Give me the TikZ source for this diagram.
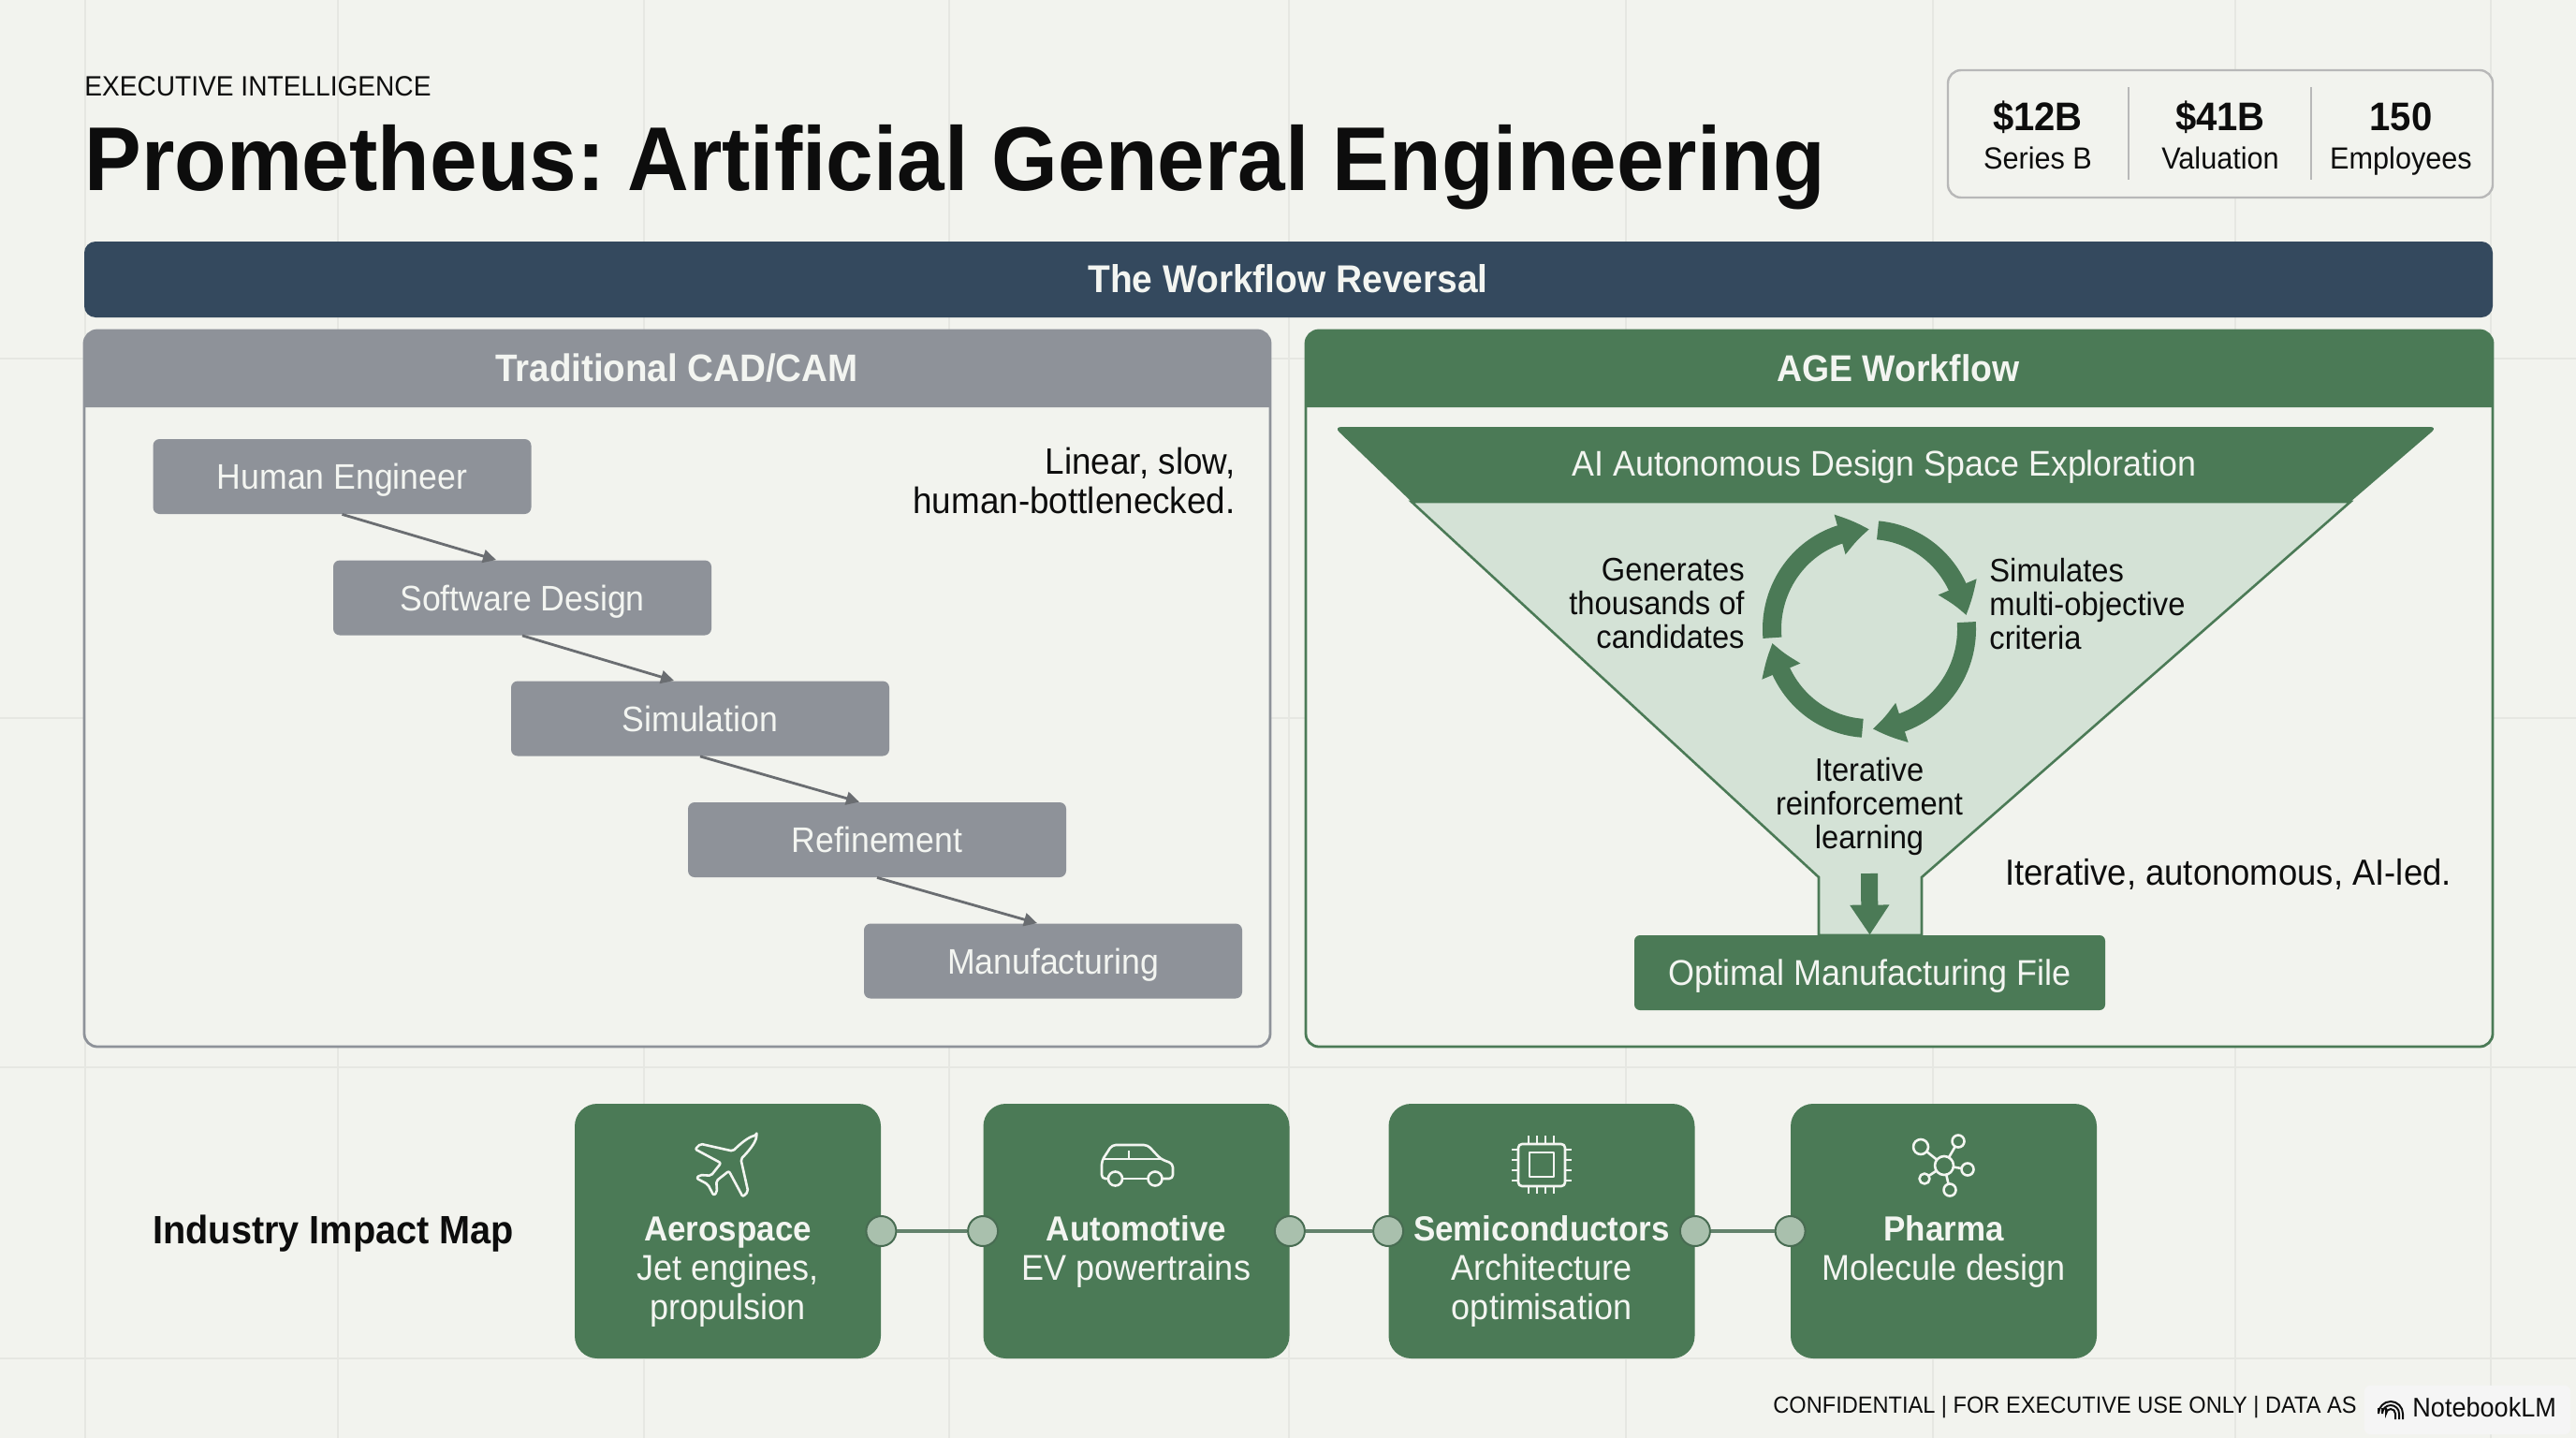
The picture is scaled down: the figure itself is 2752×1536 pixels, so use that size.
\documentclass[tikz,border=0pt]{standalone}
\usepackage{fontspec}
\setmainfont[FakeStretch=0.94]{Liberation Sans}
\usetikzlibrary{arrows.meta,bending,calc}
\definecolor{bgc}{HTML}{F2F3EE}
\definecolor{gridc}{HTML}{E6E7E2}
\definecolor{greenc}{HTML}{4B7A56}
\definecolor{navyc}{HTML}{34495E}
\definecolor{grayc}{HTML}{8E9299}
\definecolor{lightg}{HTML}{D4E2D6}
\definecolor{dotc}{HTML}{A9C0AD}
\definecolor{dotb}{HTML}{486C52}
\definecolor{inkc}{HTML}{0D0D0D}
\definecolor{paperw}{HTML}{F3F5F1}
\definecolor{arrowg}{HTML}{6A6D71}
\newcommand{\fs}[1]{\fontsize{#1}{#1}\selectfont}
\tikzset{
  txt/.style={inner sep=0pt,text=inkc,anchor=mid},
  wtxt/.style={inner sep=0pt,text=paperw,anchor=mid},
  flowbox/.style={fill=grayc,rounded corners=3.5pt,minimum width=202pt,minimum height=40pt,text=paperw,inner sep=0pt,text height=13.7pt,text depth=0pt,font=\fs{18.95}},
  card/.style={fill=greenc,rounded corners=12pt,minimum width=163.5pt,minimum height=136pt,inner sep=0pt},
  dotn/.style={circle,fill=dotc,draw=dotb,line width=1pt,minimum size=16pt,inner sep=0pt},
  link/.style={draw=dotb!85!white,line width=2pt},
  flowarrow/.style={draw=arrowg,line width=1.4pt,-{Triangle[length=7pt,width=7pt]}},
  cyc/.style={draw=greenc,line width=10pt,-{Triangle[length=16pt,width=21pt,bend]}},
  icon/.style={draw=paperw,line width=1.3pt,line join=round},
  gridl/.style={draw=gridc,line width=1pt},
}
\begin{document}
\begin{tikzpicture}[x=0.5pt,y=-0.5pt]
\fill[bgc] (0,0) rectangle (2752,1536);
\useasboundingbox (0,0) rectangle (2752,1536);
% faint grid
\foreach \gx in {91,361,688,1014,1377,1737,2065,2388,2661} \draw[gridl] (\gx,0) -- (\gx,1536);
\foreach \gy in {383,767,1140,1451} \draw[gridl] (0,\gy) -- (2752,\gy);

% header
\node[txt,anchor=base west,font=\fs{14.95}] (kicker) at (90,103) {EXECUTIVE INTELLIGENCE};
\node[txt,anchor=base west,font=\bfseries\fs{48.4}] (title) at (90,203) {Prometheus:\hspace{-0.1em} Artificial General Engineering};

% stats
\draw[fill=bgc,draw=black!28,line width=1.2pt,rounded corners=7pt] (2081,75) rectangle (2663,211);
\draw[draw=black!28,line width=1pt] (2274,93) -- (2274,192);
\draw[draw=black!28,line width=1pt] (2469,93) -- (2469,192);
\node[txt,font=\bfseries\fs{21.3}] (s1) at (2177,134) {\$12B};
\node[txt,font=\fs{16.3}] (s1b) at (2177,175) {Series B};
\node[txt,font=\bfseries\fs{21.3}] (s2) at (2372,134) {\$41B};
\node[txt,font=\fs{16.3}] (s2b) at (2372,175) {Valuation};
\node[txt,font=\bfseries\fs{21.3}] (s3) at (2565,134) {150};
\node[txt,font=\fs{16.3}] (s3b) at (2565,175) {Employees};

% banner
\fill[navyc,rounded corners=6pt] (90,258) rectangle (2663,339);
\node[wtxt,font=\bfseries\fs{20.7}] (banner) at (1376,307) {The Workflow Reversal};

% left panel
\draw[fill=bgc,draw=grayc,line width=1.4pt,rounded corners=7pt] (90,353) rectangle (1357,1118);
\fill[grayc] (90,435) [rounded corners=7pt] -- (90,353) -- (1357,353) [sharp corners] -- (1357,435) -- cycle;
\node[wtxt,font=\bfseries\fs{20.5}] (tradh) at (723,402) {Traditional CAD/CAM};
\node[flowbox] (f1) at (365.5,509) {Human Engineer};
\node[flowbox] (f2) at (558,638.5) {Software Design};
\node[flowbox] (f3) at (748,767.5) {Simulation};
\node[flowbox] (f4) at (937,897) {Refinement};
\node[flowbox] (f5) at (1125,1026.5) {Manufacturing};
\draw[flowarrow] (f1.south) -- ($(f2.north)+(-28,0)$);
\draw[flowarrow] (f2.south) -- ($(f3.north)+(-28,0)$);
\draw[flowarrow] (f3.south) -- ($(f4.north)+(-19,0)$);
\draw[flowarrow] (f4.south) -- ($(f5.north)+(-17,0)$);
\node[txt,anchor=east,align=right,font=\fontsize{19.6}{21}\selectfont] (lin) at (1320,513) {Linear, slow,\\human-bottlenecked.};

% right panel
\draw[fill=bgc,draw=greenc,line width=1.4pt,rounded corners=7pt] (1395,353) rectangle (2663,1118);
\fill[greenc] (1395,435) [rounded corners=7pt] -- (1395,353) -- (2663,353) [sharp corners] -- (2663,435) -- cycle;
\node[wtxt,font=\bfseries\fs{19.9}] (ageh) at (2028,402) {AGE Workflow};

% funnel
\draw[fill=lightg,draw=greenc,line width=1.3pt] (1508,536) -- (1943,937) -- (1943,999) -- (2053,999) -- (2053,937) -- (2511,536) -- cycle;
\fill[greenc] (1508,536) [rounded corners=4pt] -- (1425,456) -- (2604,456) [sharp corners] -- (2511,536) -- cycle;
\node[wtxt,font=\fs{19.05}] (ai) at (2013,503) {AI Autonomous Design Space Exploration};

% cycle
\coordinate (cc) at (1997,672);
\draw[cyc] ($(cc)+(85:52pt and 53pt)$) arc[start angle=85,end angle=8,x radius=52pt,y radius=53pt];
\draw[cyc] ($(cc)+(4:52pt and 53pt)$) arc[start angle=4,end angle=-88,x radius=52pt,y radius=53pt];
\draw[cyc] ($(cc)+(-94:52pt and 53pt)$) arc[start angle=-94,end angle=-172,x radius=52pt,y radius=53pt];
\draw[cyc] ($(cc)+(185:52pt and 53pt)$) arc[start angle=185,end angle=90,x radius=52pt,y radius=53pt];
\node[txt,anchor=east,align=right,font=\fontsize{17.4}{18}\selectfont] (gen) at (1864,645) {Generates\\thousands of\\candidates};
\node[txt,anchor=west,align=left,font=\fontsize{17.4}{18}\selectfont] (sim) at (2125,645) {Simulates\\multi-objective\\criteria};
\node[txt,anchor=center,align=center,font=\fontsize{17.4}{18}\selectfont] (ite) at (1997,861) {Iterative\\reinforcement\\learning};
\coordinate (dt) at (1997,933);
\node[fill=greenc,rounded corners=3pt,minimum width=251.5pt,minimum height=40pt,inner sep=0pt,text=paperw,text height=13.7pt,text depth=0pt,font=\fs{19.15}] (opt) at (1997.5,1039) {Optimal Manufacturing File};
\draw[draw=greenc,line width=9pt,-{Triangle[length=16pt,width=20pt]}] (dt) -- (opt.north);
\node[txt,anchor=mid west,font=\fs{19.4}] (itx) at (2142,940) {Iterative, autonomous, AI-led.};

% industry row
\node[txt,anchor=base west,font=\bfseries\fs{21.1}] (imp) at (163,1328) {Industry Impact Map};
\node[card] (c1) at (777.5,1315) {};
\node[card] (c2) at (1214,1315) {};
\node[card] (c3) at (1647,1315) {};
\node[card] (c4) at (2076.5,1315) {};
\foreach \cn/\nm/\la/\lb in {c1/Aerospace/{Jet engines,}/propulsion,c2/Automotive/EV powertrains/,c3/Semiconductors/Architecture/optimisation,c4/Pharma/Molecule design/}{
  \node[wtxt,font=\bfseries\fs{18.6}] (\cn t) at ($(\cn)+(0,5)$) {\nm};
  \node[wtxt,font=\fs{19.15}] (\cn a) at ($(\cn)+(0,47)$) {\la};
  \node[wtxt,font=\fs{19.15}] (\cn b) at ($(\cn)+(0,89)$) {\lb};
}
\node[dotn] (d1r) at (c1.east) {};
\node[dotn] (d2l) at (c2.west) {};
\node[dotn] (d2r) at (c2.east) {};
\node[dotn] (d3l) at (c3.west) {};
\node[dotn] (d3r) at (c3.east) {};
\node[dotn] (d4l) at (c4.west) {};
\draw[link] (d1r) -- (d2l);
\draw[link] (d2r) -- (d3l);
\draw[link] (d3r) -- (d4l);

% plane icon
\begin{scope}[shift={(778,1243)},rotate=-45]
\draw[icon,rounded corners=1pt] (0,-43) .. controls (5,-36) and (6,-24) .. (6,-13) -- (36,6) -- (36,14) -- (6,5) -- (4,22) -- (13,30) -- (13,35) -- (0,31) -- (-13,35) -- (-13,30) -- (-4,22) -- (-6,5) -- (-36,14) -- (-36,6) -- (-6,-13) .. controls (-6,-24) and (-5,-36) .. (0,-43) -- cycle;
\end{scope}
% car icon
\draw[icon,rounded corners=2pt] (1184,1259) -- (1177,1259) -- (1177,1240) -- (1188,1223) -- (1226,1223) -- (1240,1238) -- (1253,1243) -- (1253,1259) -- (1242,1259);
\draw[icon] (1199,1259) -- (1226,1259);
\draw[icon] (1178,1238) -- (1240,1238);
\draw[icon] (1206,1229) -- (1206,1238);
\draw[icon] (1191.5,1259) circle[radius=7.5];
\draw[icon] (1234,1259) circle[radius=7.5];
% chip icon
\draw[icon,rounded corners=2pt] (1622,1222) rectangle (1672,1267);
\draw[icon] (1634,1231) rectangle (1660,1257);
\foreach \px in {1633,1642,1651,1660} {
  \draw[icon,line width=0.9pt] (\px,1213) -- (\px,1222);
  \draw[icon,line width=0.9pt] (\px,1267) -- (\px,1275);
}
\foreach \py in {1228,1239,1250,1261} {
  \draw[icon,line width=0.9pt] (1615,\py) -- (1622,\py);
  \draw[icon,line width=0.9pt] (1672,\py) -- (1679,\py);
}
% molecule icon
\coordinate (mc) at (2077,1245);
\foreach \mx/\my/\mr in {2052/1225/8,2092/1219/6.5,2102/1249/6.5,2083/1271/6.5,2056/1259/5.5}{
  \draw[icon] (mc) -- (\mx,\my);
  \fill[greenc] (\mx,\my) circle[radius=\mr];
  \draw[icon] (\mx,\my) circle[radius=\mr];
}
\fill[greenc] (mc) circle[radius=10];
\draw[icon] (mc) circle[radius=10];

% footer
\node[txt,anchor=mid west,font=\fs{12.55}] (foot) at (1894,1504) {CONFIDENTIAL | FOR EXECUTIVE USE ONLY | DATA AS};
\fill[black!4,rounded corners=3pt] (2526,1480) rectangle (2746,1532);
\node[txt,anchor=mid west,font=\fs{14.4}] (nb) at (2577,1508) {NotebookLM};
\coordinate (nbi) at (2554,1510);
\foreach \r in {13,9,5} \draw[inkc,line width=1pt] ($(nbi)+(-\r*0.5pt,3pt)$) -- ($(nbi)+(-\r*0.5pt,0)$) arc[start angle=180,end angle=0,radius=\r*0.5pt] -- ++(0,6);
\end{tikzpicture}
\end{document}
